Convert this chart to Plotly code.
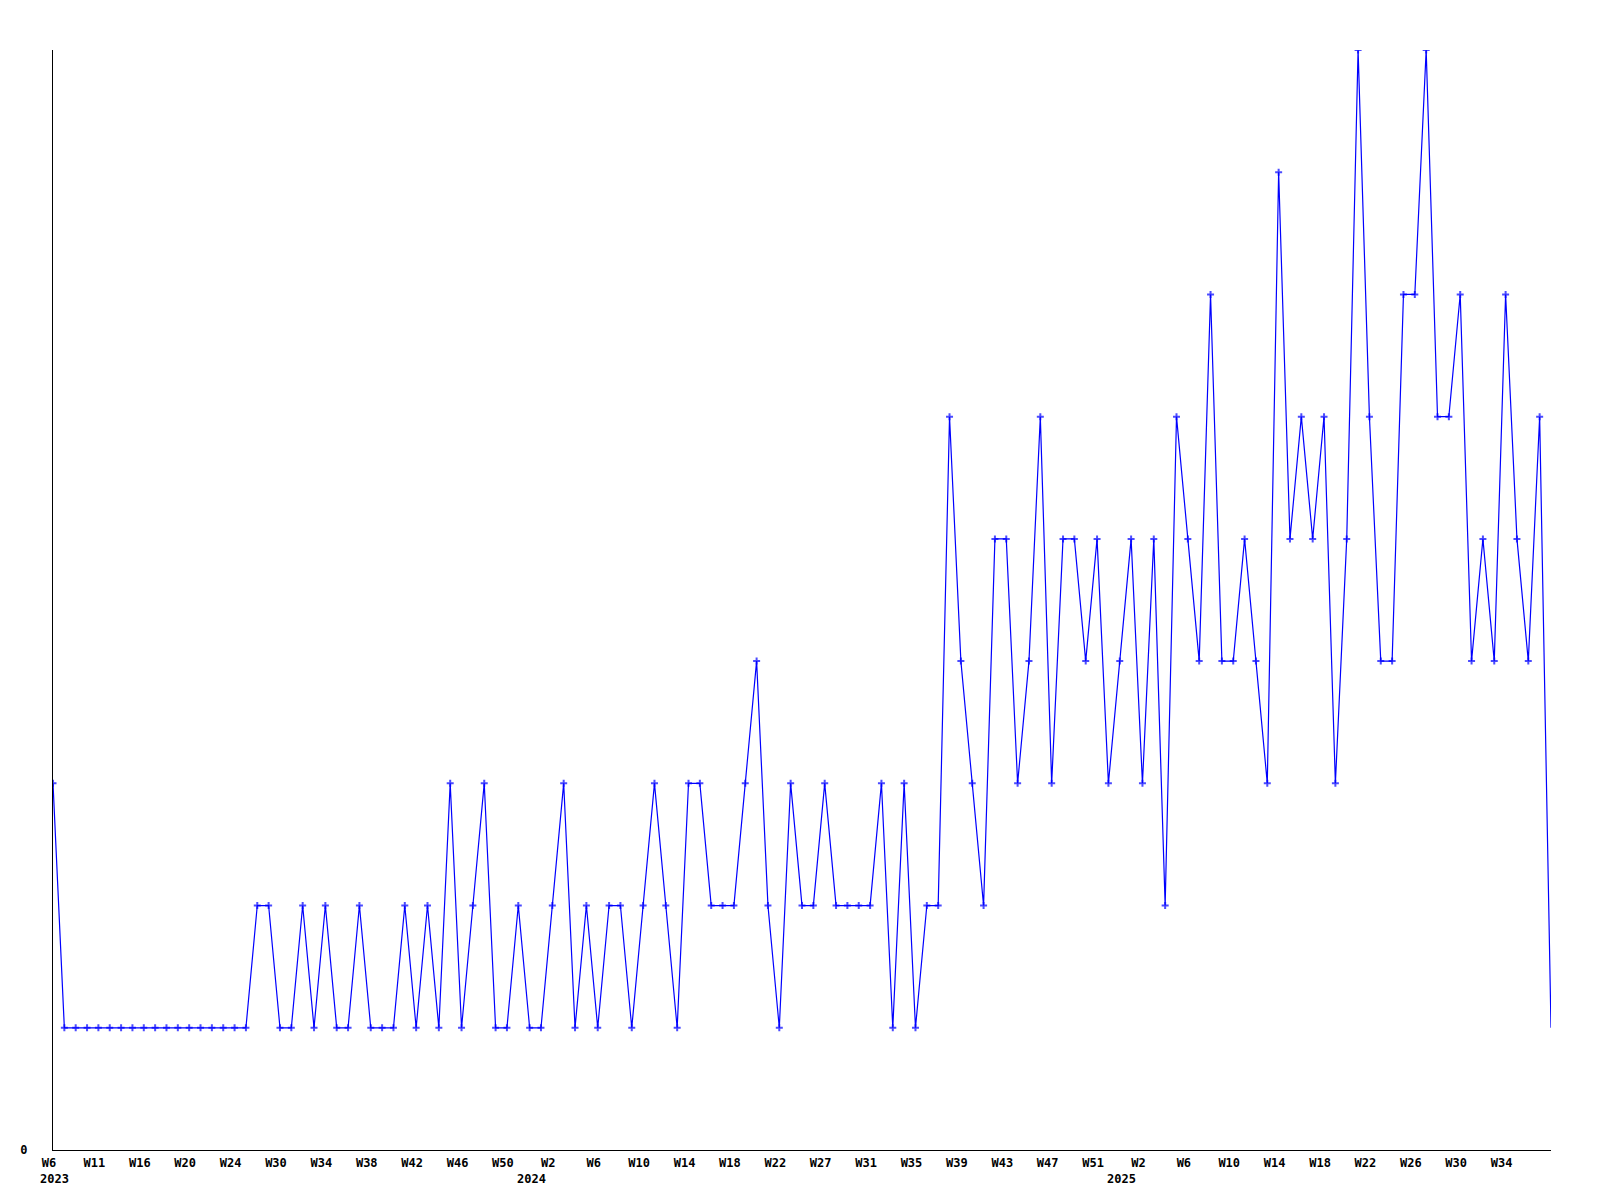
import plotly.graph_objs as go

# weekly counts, one value per point (2023 W6 .. 2025)
counts = [
    3, 1, 1, 1, 1, 1, 1, 1, 1, 1, 1, 1, 1, 1, 1, 1, 1, 1, 2, 2,
    1, 1, 2, 1, 2, 1, 1, 2, 1, 1, 1, 2, 1, 2, 1, 3, 1, 2, 3, 1,
    1, 2, 1, 1, 2, 3, 1, 2, 1, 2, 2, 1, 2, 3, 2, 1, 3, 3, 2, 2,
    2, 3, 4, 2, 1, 3, 2, 2, 3, 2, 2, 2, 2, 3, 1, 3, 1, 2, 2, 6,
    4, 3, 2, 5, 5, 3, 4, 6, 3, 5, 5, 4, 5, 3, 4, 5, 3, 5, 2, 6,
    5, 4, 7, 4, 4, 5, 4, 3, 8, 5, 6, 5, 6, 3, 5, 9, 6, 4, 4, 7,
    7, 9, 6, 6, 7, 4, 5, 4, 7, 5, 4, 6, 1,
]

# a label on every 4th point
week_labels = [
    "W6", "W11", "W16", "W20", "W24", "W30", "W34", "W38", "W42", "W46", "W50",
    "W2", "W6", "W10", "W14", "W18", "W22", "W27", "W31", "W35", "W39", "W43",
    "W47", "W51", "W2", "W6", "W10", "W14", "W18", "W22", "W26", "W30", "W34",
]

# year label and the point where that year starts
years = ["2023", "2024", "2025"]
year_pos = [0, 42, 94]

idx = list(range(len(counts)))
sizes = [5] * (len(counts) - 1) + [0]

trace = go.Scatter(
    x=idx,
    y=counts,
    mode="lines+markers",
    line=dict(color="#0000ff", width=1.2),
    marker=dict(symbol="cross-thin", size=sizes, color="#0000ff",
                line=dict(color="#0000ff", width=2)),
    showlegend=False,
)

fig = go.Figure(data=[trace])

tick_font = dict(family="DejaVu Sans Mono", size=12, color="black", weight="bold")

# page body has an 8px margin, so margins are trimmed to match
fig.update_layout(
    width=1600,
    height=1200,
    paper_bgcolor="white",
    plot_bgcolor="white",
    margin=dict(l=40, r=57, t=42, b=58),
    xaxis=dict(
        range=[0, len(counts) - 1],
        tickvals=idx[::4][:len(week_labels)],
        ticktext=week_labels,
        ticks="",
        showgrid=False,
        zeroline=False,
        showline=True,
        linecolor="black",
        linewidth=1,
        tickfont=tick_font,
        ticklabelshift=-4,
        ticklabelstandoff=2,
    ),
    yaxis=dict(
        range=[0, 9],
        tickvals=[0],
        ticktext=["0"],
        ticks="",
        showgrid=False,
        zeroline=False,
        showline=True,
        linecolor="black",
        linewidth=1,
        tickfont=tick_font,
        ticklabelstandoff=22,
    ),
)

for y, p in zip(years, year_pos):
    fig.add_annotation(
        x=p, y=0, xref="x", yref="y", text=y, showarrow=False,
        xanchor="left", yanchor="top", xshift=-15, yshift=-20,
        font=tick_font,
    )

fig.write_html("out.html")
